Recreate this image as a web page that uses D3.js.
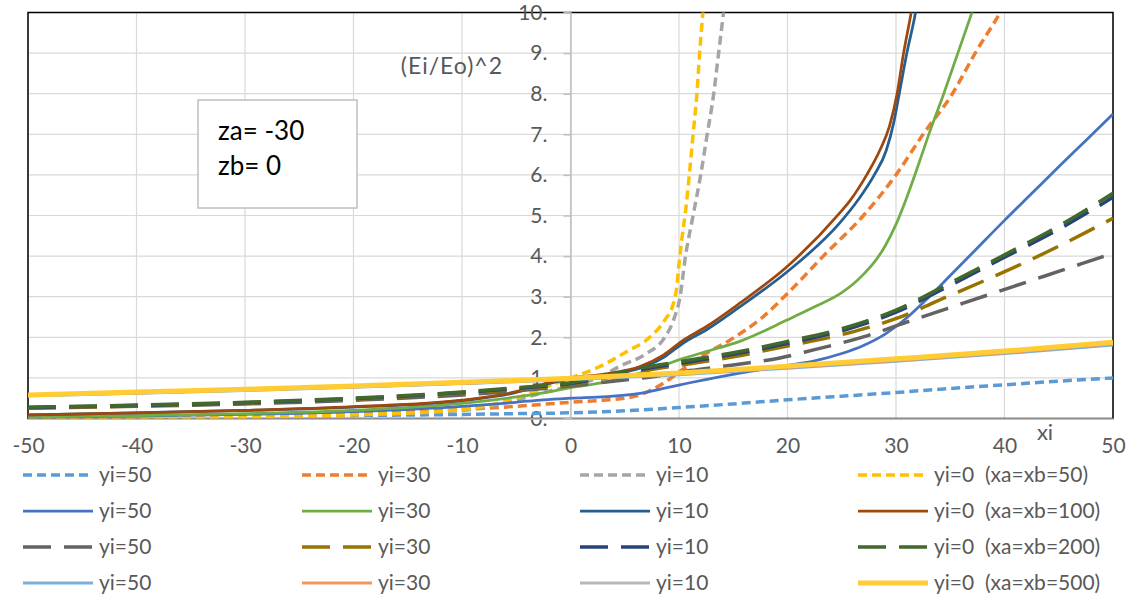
<!DOCTYPE html>
<html>
<head>
<meta charset="utf-8">
<script src="https://cdn.jsdelivr.net/npm/d3@7"></script>
<style>
  html, body { margin: 0; padding: 0; background: #fff; }
  svg { display: block; font-family: Lato, "Open Sans", sans-serif; }
  text { white-space: pre; }
</style>
</head>
<body>
<svg id="chart" width="1140" height="596"></svg>
<script>
// ---------- data ----------
const xTicks = [-50, -40, -30, -20, -10, 0, 10, 20, 30, 40, 50];
const xTickLabels = ["-50", "-40", "-30", "-20", "-10", "0", "10", "20", "30", "40", "50"];
const yTicks = [0, 1, 2, 3, 4, 5, 6, 7, 8, 9, 10];
const yTickLabels = ["0.", "1.", "2.", "3.", "4.", "5.", "6.", "7.", "8.", "9.", "10."];

// xa=xb=50 (short dash)
const s_yi50_x50 = [[-50,0.02],[-40,0.035],[-30,0.05],[-20,0.075],[-10,0.1],[-5,0.12],[0,0.14],[5,0.19],[10,0.27],[15,0.36],[20,0.46],[25,0.55],[30,0.64],[35,0.74],[40,0.83],[45,0.92],[50,1.0]];
const s_yi30_x50 = [[-50,0.03],[-40,0.05],[-30,0.08],[-20,0.14],[-10,0.22],[-5,0.3],[0,0.4],[3,0.45],[5.8,0.54],[7.3,0.68],[8.9,0.93],[10.4,1.22],[12.2,1.55],[15,1.98],[17.5,2.45],[20,3.08],[23.3,4.0],[27,5.0],[30,6.0],[32.5,7.0],[35.2,8.0],[37.3,9.0],[39.6,10.0],[41,10.7]];
const s_yi10_x50 = [[-50,0.01],[-40,0.02],[-30,0.04],[-20,0.09],[-10,0.2],[-5,0.45],[-2.5,0.64],[0,0.8],[2.4,0.99],[4.5,1.28],[7,1.6],[8.5,1.93],[9.5,2.43],[10.1,3.0],[10.6,4.0],[11.3,5.0],[12.0,6.0],[12.6,7.0],[13.2,8.0],[13.65,9.0],[14.1,10.0],[14.5,11.0]];
const s_yi0_x50  = [[-50,0.01],[-40,0.02],[-30,0.04],[-20,0.09],[-10,0.22],[-5,0.5],[-2.5,0.75],[0,1.0],[2.7,1.28],[5.2,1.65],[7.3,2.0],[8.7,2.43],[9.5,2.85],[9.8,3.25],[10.0,3.8],[10.3,4.5],[10.6,5.1],[10.95,6.0],[11.3,7.0],[11.65,8.0],[11.9,9.0],[12.2,10.0],[12.5,11.0]];
// xa=xb=100 (solid)
const s_yi50_x100 = [[-50,0.03],[-40,0.06],[-30,0.1],[-20,0.17],[-10,0.3],[-5,0.4],[-2.5,0.46],[0,0.5],[3.3,0.54],[6.4,0.62],[8.9,0.76],[11,0.88],[15.6,1.12],[19.3,1.28],[22.5,1.42],[25,1.6],[27,1.8],[29,2.08],[31,2.48],[33,2.98],[35,3.52],[37.5,4.2],[40,4.88],[42.5,5.54],[45,6.2],[47.5,6.85],[50,7.5]];
const s_yi30_x100 = [[-50,0.04],[-40,0.07],[-30,0.12],[-20,0.2],[-10,0.37],[-5,0.53],[-2.5,0.63],[0,0.76],[3.3,0.9],[7.3,1.19],[10.4,1.48],[12.5,1.65],[15.6,1.9],[20,2.43],[22.5,2.75],[25,3.1],[26,3.3],[27,3.55],[28,3.85],[29,4.25],[30,4.78],[31,5.45],[32,6.2],[33,6.98],[34.4,8.0],[35.7,9.0],[37,10.0],[38,10.8]];
const s_yi10_x100 = [[-50,0.09],[-40,0.14],[-30,0.2],[-20,0.28],[-10,0.44],[-5,0.64],[-2.5,0.83],[0,0.97],[3.3,1.07],[6.4,1.24],[8.55,1.5],[10.4,1.86],[12.5,2.18],[15.6,2.75],[20,3.62],[24.8,4.81],[26.5,5.38],[28,6.0],[29.1,6.6],[29.8,7.3],[30.3,8.0],[31.0,9.0],[31.8,10.0],[32.4,11.0]];
const s_yi0_x100  = [[-50,0.09],[-40,0.14],[-30,0.2],[-20,0.29],[-10,0.45],[-5,0.66],[-2.5,0.85],[0,1.0],[3.3,1.1],[6.4,1.28],[8.55,1.56],[10.4,1.93],[12.5,2.26],[15.6,2.84],[20,3.75],[24.8,5.06],[25.8,5.38],[27.3,6.0],[28.5,6.6],[29.4,7.2],[30.1,8.0],[30.7,9.0],[31.4,10.0],[32,11.0]];
// xa=xb=200 (long dash)
const s_yi50_x200 = [[-50,0.25],[-40,0.3],[-30,0.36],[-20,0.45],[-10,0.58],[-5,0.68],[0,0.8],[3.3,0.9],[7.6,1.03],[11,1.18],[15,1.32],[19.3,1.49],[22.4,1.69],[27,2.01],[31.6,2.43],[36.2,2.84],[40.8,3.25],[45.4,3.66],[50,4.07]];
const s_yi30_x200 = [[-50,0.26],[-40,0.31],[-30,0.38],[-20,0.48],[-10,0.62],[-5,0.72],[0,0.84],[6.4,1.16],[11,1.35],[15,1.52],[19.3,1.75],[25.5,2.1],[30.1,2.47],[34.7,3.0],[39.3,3.53],[43.9,4.1],[50,4.93]];
const s_yi10_x200 = [[-50,0.27],[-40,0.32],[-30,0.39],[-20,0.49],[-10,0.64],[-5,0.74],[0,0.86],[6.4,1.2],[11,1.4],[15,1.58],[20,1.85],[25,2.16],[30,2.62],[35,3.28],[40,3.97],[45,4.66],[50,5.45]];
const s_yi0_x200  = [[-50,0.28],[-40,0.33],[-30,0.4],[-20,0.5],[-10,0.65],[-5,0.76],[0,0.88],[6.4,1.24],[11,1.44],[15,1.62],[20,1.9],[25,2.21],[30,2.67],[35,3.34],[40,4.03],[45,4.74],[50,5.55]];
// xa=xb=500 (solid, light)
const s_yi50_x500 = [[-50,0.56],[-40,0.62],[-30,0.69],[-20,0.77],[-10,0.86],[0,0.96],[10,1.08],[20,1.24],[30,1.41],[40,1.6],[50,1.81]];
const s_yi30_x500 = [[-50,0.57],[-40,0.63],[-30,0.7],[-20,0.78],[-10,0.87],[0,0.97],[10,1.1],[20,1.26],[30,1.43],[40,1.62],[50,1.84]];
const s_yi10_x500 = [[-50,0.575],[-40,0.64],[-30,0.71],[-20,0.79],[-10,0.88],[0,0.98],[10,1.11],[20,1.28],[30,1.45],[40,1.64],[50,1.86]];
const s_yi0_x500  = [[-50,0.58],[-40,0.65],[-30,0.72],[-20,0.8],[-10,0.89],[0,0.99],[10,1.12],[20,1.29],[30,1.47],[40,1.66],[50,1.88]];

const seriesLabels = [
  "yi=50", "yi=30", "yi=10", "yi=0  (xa=xb=50)",
  "yi=50", "yi=30", "yi=10", "yi=0  (xa=xb=100)",
  "yi=50", "yi=30", "yi=10", "yi=0  (xa=xb=200)",
  "yi=50", "yi=30", "yi=10", "yi=0  (xa=xb=500)"
];
const seriesData = [
  s_yi50_x50, s_yi30_x50, s_yi10_x50, s_yi0_x50,
  s_yi50_x100, s_yi30_x100, s_yi10_x100, s_yi0_x100,
  s_yi50_x200, s_yi30_x200, s_yi10_x200, s_yi0_x200,
  s_yi50_x500, s_yi30_x500, s_yi10_x500, s_yi0_x500
];
const boxLines = ["za= -30", "zb= 0"];

// ---------- styles ----------
const colors = [
  "#5B9BD5", "#ED7D31", "#A5A5A5", "#FFC000",
  "#4472C4", "#70AD47", "#255E91", "#9E480E",
  "#636363", "#997300", "#264478", "#43682B",
  "#7CAFDD", "#F1975A", "#B7B7B7", "#FFCD33"
];
const dashes = ["9,5", "", "28,13", ""];   // per group of 4
const widths = [3.5, 2.75, 3.5, 3.0];
function styleOf(i) {
  const g = Math.floor(i / 4);
  let w = widths[g];
  if (i === 15) w = 5;
  return { color: colors[i], dash: dashes[g], width: w };
}

// ---------- layout ----------
const svg = d3.select("#chart");
const plot = { left: 28, right: 1113, top: 12.5, bottom: 418.5 };
const x = d3.scaleLinear().domain([-50, 50]).range([plot.left, plot.right]);
const y = d3.scaleLinear().domain([0, 10]).range([plot.bottom, plot.top]);
const textColor = "#595959";
const fontSize = 21;

// gridlines
svg.append("g").selectAll("line.v").data(xTicks).join("line")
  .attr("x1", d => x(d)).attr("x2", d => x(d))
  .attr("y1", plot.top).attr("y2", plot.bottom)
  .attr("stroke", "#D9D9D9").attr("stroke-width", 1.2);
svg.append("g").selectAll("line.h").data(yTicks).join("line")
  .attr("x1", plot.left).attr("x2", plot.right)
  .attr("y1", d => y(d)).attr("y2", d => y(d))
  .attr("stroke", "#D9D9D9").attr("stroke-width", 1.2);

// plot border
svg.append("rect")
  .attr("x", plot.left).attr("y", plot.top)
  .attr("width", plot.right - plot.left).attr("height", plot.bottom - plot.top)
  .attr("fill", "none").attr("stroke", "#000").attr("stroke-width", 1.5);

// y axis at x=0
const yAxis = d3.axisLeft(y).tickValues(yTicks).tickSize(7).tickPadding(16)
  .tickFormat((d, i) => yTickLabels[i]);
const gy = svg.append("g").attr("transform", `translate(${x(0)},0)`).call(yAxis);
gy.select(".domain").attr("stroke", "#BFBFBF").attr("stroke-width", 1.5);
gy.selectAll(".tick line").attr("stroke", "#BFBFBF").attr("stroke-width", 1.5);
gy.selectAll(".tick text").attr("fill", textColor).attr("font-size", fontSize)
  .attr("font-family", "Lato");

// x axis at bottom
const xAxis = d3.axisBottom(x).tickValues(xTicks).tickSize(0).tickPadding(20)
  .tickFormat((d, i) => xTickLabels[i]);
const gx = svg.append("g").attr("transform", `translate(0,${plot.bottom})`).call(xAxis);
gx.select(".domain").attr("stroke", "#BFBFBF").attr("stroke-width", 1.5);
gx.selectAll(".tick text").attr("fill", textColor).attr("font-size", fontSize)
  .attr("font-family", "Lato");

// axis titles
svg.append("text").attr("x", 503).attr("y", 74).attr("text-anchor", "end")
  .attr("fill", textColor).attr("font-size", 23).attr("letter-spacing", 1)
  .text("(Ei/Eo)^2");
svg.append("text").attr("x", 1045).attr("y", 440).attr("text-anchor", "middle")
  .attr("fill", textColor).attr("font-size", 22).text("xi");

// clip
svg.append("clipPath").attr("id", "clip").append("rect")
  .attr("x", plot.left).attr("y", plot.top)
  .attr("width", plot.right - plot.left).attr("height", plot.bottom - plot.top);

const line = d3.line().x(d => x(d[0])).y(d => y(d[1])).curve(d3.curveMonotoneX);
const lines = svg.append("g").attr("clip-path", "url(#clip)");
seriesData.forEach((data, i) => {
  const s = styleOf(i);
  lines.append("path").datum(data).attr("d", line)
    .attr("fill", "none").attr("stroke", s.color).attr("stroke-width", s.width)
    .attr("stroke-dasharray", s.dash || null).attr("stroke-linejoin", "round");
});

// text box
const box = svg.append("g");
box.append("rect").attr("x", 198).attr("y", 100).attr("width", 159).attr("height", 108)
  .attr("fill", "#fff").attr("stroke", "#BFBFBF").attr("stroke-width", 1.5);
boxLines.forEach((t, i) => {
  box.append("text").attr("x", 218).attr("y", 140 + i * 35)
    .attr("fill", "#000").attr("font-size", 26).text(t);
});

// legend
const legCols = [23, 302, 580, 858];
const legRows = [475, 511, 547, 583];
const leg = svg.append("g");
seriesLabels.forEach((lab, i) => {
  const r = Math.floor(i / 4), c = i % 4;
  const s = styleOf(i);
  const lx = legCols[c], ly = legRows[r];
  leg.append("line").attr("x1", lx).attr("x2", lx + 70).attr("y1", ly).attr("y2", ly)
    .attr("stroke", s.color).attr("stroke-width", s.width)
    .attr("stroke-dasharray", s.dash || null);
  leg.append("text").attr("x", lx + 76).attr("y", ly).attr("dy", "0.35em")
    .attr("fill", textColor).attr("font-size", fontSize).text(lab);
});
</script>
</body>
</html>
